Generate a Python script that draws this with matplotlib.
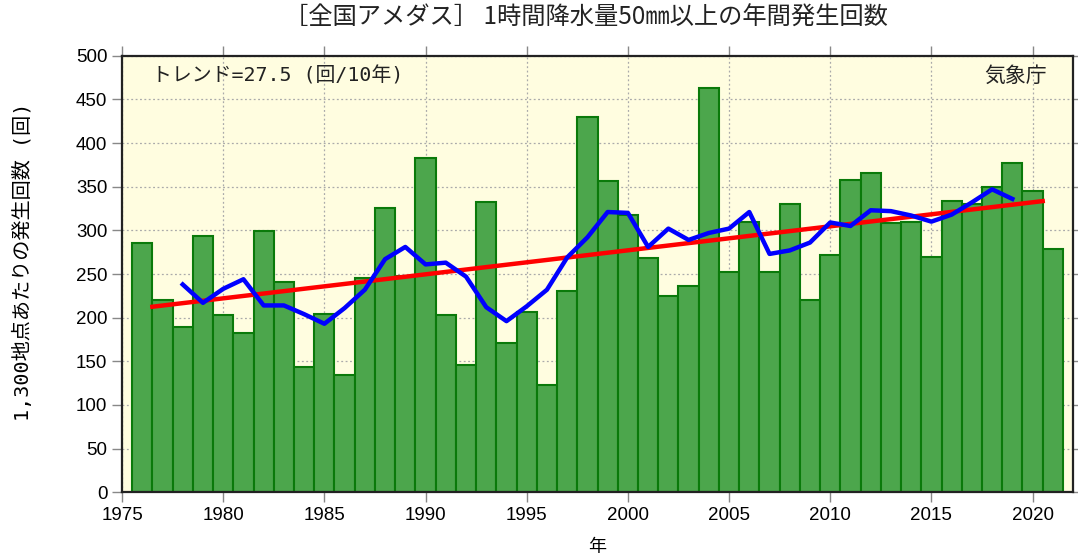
import numpy as np
import matplotlib
matplotlib.use('Agg')
import matplotlib.pyplot as plt

plt.rcParams['font.family'] = ['Liberation Sans', 'Noto Sans CJK JP', 'DejaVu Sans']

# Data
years = list(range(1976, 2022))
counts = [286, 220, 189, 293, 203, 182, 299, 241, 143, 204,
          134, 245, 326, 248, 383, 203, 146, 333, 171, 206,
          123, 230, 430, 357, 318, 268, 225, 236, 463, 252,
          309, 252, 330, 220, 272, 358, 366, 308, 309, 269,
          334, 330, 350, 377, 345, 279]

# 5-year running mean (blue line), 1978-2019
mean_years = list(range(1978, 2020))
mean_vals = [238, 217, 233, 244, 214, 214, 204, 193, 211, 232,
             267, 281, 261, 263, 247, 212, 196, 213, 232, 269,
             292, 321, 320, 281, 302, 289, 297, 302, 321, 273,
             277, 286, 309, 305, 323, 322, 317, 310, 318, 332,
             347, 336]

# long-term trend (red line) end points
trend_x = [1976.5, 2020.5]
trend_y = [212.5, 333.5]

title = '［全国アメダス］ 1時間降水量50㎜以上の年間発生回数'
ylabel = '1,300地点あたりの発生回数 (回)'
trend_text = 'トレンド=27.5 (回/10年)'
source_text = '気象庁'

fig = plt.figure(figsize=(10.78, 5.55), dpi=100)
ax = fig.add_axes([0.1132, 0.113, 0.8822, 0.7866])
ax.set_facecolor('#fffde0')

ax.bar(years, counts, width=1.0, color='#4ca64c', edgecolor='#0a7a0a',
       linewidth=1.5, zorder=2)
ax.plot(trend_x, trend_y, color='#ff0000', linewidth=3.2, zorder=3)
ax.plot(mean_years, mean_vals, color='#0000ff', linewidth=3.2, zorder=4)

ax.set_xlim(1975, 2022)
ax.set_ylim(0, 500)
ax.set_xticks(range(1975, 2021, 5))
ax.set_yticks(range(0, 501, 50))
ax.set_axisbelow(True)
ax.grid(True, color='#aaaaaa', linestyle=(0, (1.5, 2)), linewidth=0.9)

ax.tick_params(axis='both', which='both', direction='out', length=7,
               width=1, color='#888888', labelsize=13.5,
               top=True, right=True, labeltop=False, labelright=False)
for s in ax.spines.values():
    s.set_linewidth(1.6)
    s.set_color('#222222')

cjk = ['Noto Sans CJK JP', 'DejaVu Sans']
mono = ['DejaVu Sans Mono', 'Noto Sans CJK JP']
ax.set_xlabel('年', family=cjk, fontsize=13, labelpad=10)
ax.set_ylabel(ylabel, family=mono, fontsize=14.5)
ax.yaxis.set_label_coords(-0.094, 0.527)

ax.text(0.032, 0.953, trend_text, transform=ax.transAxes, family=mono,
        fontsize=14.3, color='#222222', ha='left', va='center')
ax.text(0.972, 0.953, source_text, transform=ax.transAxes, family=cjk,
        fontsize=15, color='#222222', ha='right', va='center')

fig.text(586 / 1078, 1 - 18 / 555, title, family=cjk, fontsize=17.5,
         color='#222222', ha='center', va='center')

fig.savefig('out.png', dpi=100)
